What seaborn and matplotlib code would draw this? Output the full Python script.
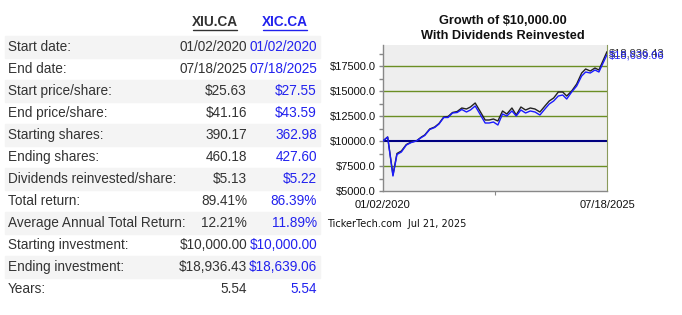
import matplotlib
matplotlib.use("Agg")
import matplotlib.pyplot as plt
from matplotlib.patches import Rectangle
import seaborn as sns
import pandas as pd
import numpy as np

# ---------------- data ----------------
tickers = ["XIU.CA", "XIC.CA"]
row_labels = ["Start date:", "End date:", "Start price/share:", "End price/share:",
              "Starting shares:", "Ending shares:", "Dividends reinvested/share:",
              "Total return:", "Average Annual Total Return:", "Starting investment:",
              "Ending investment:", "Years:"]
xiu_values = ["01/02/2020", "07/18/2025", "$25.63", "$41.16", "390.17", "460.18",
              "$5.13", "89.41%", "12.21%", "$10,000.00", "$18,936.43", "5.54"]
xic_values = ["01/02/2020", "07/18/2025", "$27.55", "$43.59", "362.98", "427.60",
              "$5.22", "86.39%", "11.89%", "$10,000.00", "$18,639.06", "5.54"]

start_date = "2020-01-02"
end_date = "2025-07-18"
# days since start date for each sampled point
day_offsets = [0, 42, 90, 126, 166, 211, 256, 301, 347, 377, 422, 467, 506, 549, 588,
               628, 670, 712, 754, 790, 833, 881, 923, 959, 998, 1038, 1080, 1119,
               1165, 1204, 1246, 1288, 1331, 1373, 1418, 1463, 1502, 1542, 1584,
               1624, 1660, 1705, 1750, 1795, 1831, 1873, 1915, 1951, 2024]
xiu_growth = [10000, 10400, 6600, 8750, 9000, 9650, 9900, 10000, 10400, 10600, 11200,
              11400, 11750, 12400, 12450, 12850, 12950, 13300, 13200, 13400, 13800,
              12900, 12100, 12100, 12200, 12000, 13000, 12700, 13300, 12600, 13400,
              13100, 13300, 13200, 12900, 13500, 14000, 14300, 14900, 14900, 14500,
              15000, 15700, 16800, 17200, 17000, 17300, 17100, 18936.43]
xic_growth = [10000, 10400, 6500, 8650, 8900, 9600, 9850, 10000, 10350, 10550, 11150,
              11350, 11700, 12350, 12350, 12800, 12850, 13150, 12900, 13100, 13500,
              12600, 11800, 11800, 11900, 11600, 12700, 12500, 13000, 12500, 13100,
              12800, 13000, 12900, 12600, 13200, 13700, 14000, 14500, 14600, 14200,
              14900, 15500, 16500, 16900, 16800, 17100, 16900, 18639.06]
y_ticks = [5000, 7500, 10000, 12500, 15000, 17500]
chart_title = "Growth of $10,000.00\nWith Dividends Reinvested"
footer = "TickerTech.com  Jul 21, 2025"

# ---------------- figure ----------------
sns.set_style("white")
plt.rcParams["font.family"] = ["Liberation Sans", "DejaVu Sans"]

W, H = 682, 315
fig = plt.figure(figsize=(W / 100, H / 100), dpi=100)

def fx(x):
    return x / W

def fy(y):
    return 1 - y / H

DARK = "#333333"
BLUE = "#2222ee"
FS = 9.8

# ---------------- table ----------------
fig.text(fx(215), fy(22), tickers[0], ha="center", va="center", fontsize=FS,
         fontweight="bold", color=DARK)
fig.text(fx(285), fy(22), tickers[1], ha="center", va="center", fontsize=FS,
         fontweight="bold", color=BLUE)
fig.add_artist(plt.Line2D([fx(193), fx(237)], [fy(30), fy(30)], color=DARK, lw=1,
                          transform=fig.transFigure))
fig.add_artist(plt.Line2D([fx(263), fx(307)], [fy(30), fy(30)], color=BLUE, lw=1,
                          transform=fig.transFigure))

row_top0 = 36
row_h = 22
for i, lab in enumerate(row_labels):
    top = row_top0 + i * row_h
    yc = top + row_h / 2
    if i % 2 == 0:
        fig.add_artist(Rectangle((fx(5), fy(top + row_h)), fx(320) - fx(5), row_h / H,
                                 transform=fig.transFigure, color="#f4f4f4", zorder=0))
    fig.text(fx(8), fy(yc), lab, ha="left", va="center", fontsize=FS, color=DARK)
    fig.text(fx(247), fy(yc), xiu_values[i], ha="right", va="center", fontsize=FS,
             color=DARK)
    fig.text(fx(317), fy(yc), xic_values[i], ha="right", va="center", fontsize=FS,
             color=BLUE)

# ---------------- chart ----------------
left, right, top, bottom = 383, 607, 45, 191
ax = fig.add_axes([fx(left), fy(bottom), (right - left) / W, (bottom - top) / H])
ax.set_facecolor("#eeeeee")

dates = pd.to_datetime(start_date) + pd.to_timedelta(day_offsets, unit="D")
df = pd.DataFrame({"date": list(dates) * 2,
                   "value": xiu_growth + xic_growth,
                   "ticker": [tickers[0]] * len(dates) + [tickers[1]] * len(dates)})

for t in y_ticks:
    if t == 10000:
        ax.axhline(t, color="#000080", lw=1.5, zorder=1)
    elif t != 5000:
        ax.axhline(t, color="#6b8e23", lw=1, zorder=1)

sns.lineplot(data=df, x="date", y="value", hue="ticker",
             palette={tickers[0]: "#222222", tickers[1]: "#1a1aff"},
             linewidth=1.0, legend=False, ax=ax, zorder=3)

d0, d1 = pd.to_datetime(start_date), pd.to_datetime(end_date)
ax.set_xlim(d0, d1)
ax.set_ylim(5000, 19600)
ax.set_xlabel("")
ax.set_ylabel("")
ax.set_yticks(y_ticks)
ax.set_yticklabels([f"${v:.1f}" for v in y_ticks], fontsize=8, color="#111111")
ax.set_yticks([v + 1250 for v in y_ticks], minor=True)
ax.tick_params(axis="y", which="both", length=3, width=1, color="#888888", pad=2,
               left=True)
mid = d0 + (d1 - d0) / 2
ax.set_xticks([mid])
ax.set_xticklabels([""])
ax.tick_params(axis="x", length=3, color="#888888", bottom=True)

for s in ["left", "bottom"]:
    ax.spines[s].set_color("#888888")
    ax.spines[s].set_linewidth(1)
ax.spines["right"].set_color("#8a9a5b")
ax.spines["top"].set_visible(False)

fig.text(fx(383), fy(205), "01/02/2020", ha="center", va="center", fontsize=8,
         color="#111111")
fig.text(fx(607), fy(205), "07/18/2025", ha="center", va="center", fontsize=8,
         color="#111111")
fig.text(fx(327), fy(224), footer, ha="left", va="center", fontsize=7,
         family="DejaVu Sans", color="#111111")

fig.text(fx(503), fy(28.5), chart_title, ha="center", va="center", fontsize=9.2,
         fontweight="bold", color="#111111", linespacing=1.25)

fig.text(fx(609), fy(53), "$" + f"{xiu_growth[-1]:,.2f}", ha="left", va="center",
         fontsize=8, color="#333333")
fig.text(fx(609), fy(56), "$" + f"{xic_growth[-1]:,.2f}", ha="left", va="center",
         fontsize=8, color=BLUE)

fig.savefig("out.png", dpi=100)
